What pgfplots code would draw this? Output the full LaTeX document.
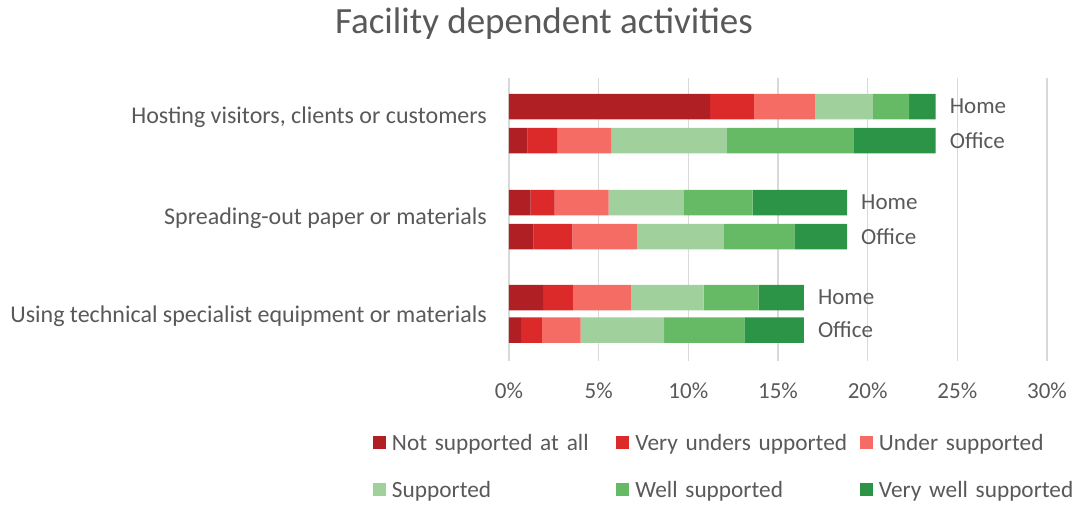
\documentclass[border=0pt]{standalone}
\usepackage{pgfplots}
\pgfplotsset{compat=1.18}
\usepackage{pgfplotstable}
\usepackage{fontspec}
\setmainfont{Carlito}
\definecolor{txt}{HTML}{595959}
\definecolor{gridc}{HTML}{D9D9D9}
\definecolor{c1}{HTML}{B01F24}
\definecolor{c2}{HTML}{DC2A2A}
\definecolor{c3}{HTML}{F46C64}
\definecolor{c4}{HTML}{A0D09B}
\definecolor{c5}{HTML}{66BA66}
\definecolor{c6}{HTML}{2B9446}
\pgfplotstableread{
y s1 s2 s3 s4 s5 s6
106.5 11.21 2.44 3.43 3.21 2.02 1.48
140.5 1.04 1.65 3.00 6.46 7.08 4.56
202.5 1.21 1.33 3.02 4.17 3.85 5.27
236.5 1.38 2.16 3.59 4.85 3.94 2.93
297.5 1.90 1.66 3.27 4.02 3.07 2.52
330.0 0.67 1.16 2.17 4.65 4.48 3.31
}\mytbl
\tikzset{lab/.style={anchor=west, inner sep=0pt, xshift=14pt, text=txt, font=\fontsize{23}{28}\selectfont}}
\begin{document}
\begin{tikzpicture}
\path[use as bounding box] (-509pt,-145pt) rectangle (572pt,361pt);
\node[anchor=base, inner sep=0pt, text=txt, font=\fontsize{37}{44}\selectfont] at (35pt,327.7pt) {Facility dependent activities};
\begin{axis}[
 scale only axis, width=538pt, height=283pt,
 xmin=0, xmax=30, ymin=78, ymax=361, y dir=reverse,
 xbar stacked, bar width=25.5pt,
 axis line style={draw=none},
 major tick length=0pt,
 xtick={0,5,10,15,20,25,30}, xticklabels={0\%,5\%,10\%,15\%,20\%,25\%,30\%},
 xmajorgrids, grid style={gridc, line width=1.5pt},
 ytick={123.3,224,322.3},
 yticklabels={{Hosting visitors, clients or customers}, {Spreading-out paper or materials}, {Using technical specialist equipment or materials}},
 yticklabel style={anchor=base east, inner sep=0pt, xshift=-22pt, text=txt, font=\fontsize{24}{28}\selectfont},
 xticklabel style={anchor=base, inner sep=0pt, yshift=-37.3pt, text=txt, font=\fontsize{23}{28}\selectfont},
 legend columns=3,
 legend cell align=left,
 legend style={at={(-0.2528,-0.2615)}, anchor=north west, draw=none, fill=none, inner sep=0pt, outer sep=0pt, row sep=31.5pt,
   nodes={inner sep=0pt, text height=15.5pt, text depth=0pt, text width=224.5pt, align=left, font=\fontsize{23.3}{28}\selectfont, text=txt},
   /tikz/every odd column/.append style={column sep=6pt}},
 legend image code/.code={\fill[#1] (0pt,-6.5pt) rectangle (13pt,6.5pt);},
]
\addplot[fill=c1, draw=none] table[x=s1, y=y] {\mytbl};
\addplot[fill=c2, draw=none] table[x=s2, y=y] {\mytbl};
\addplot[fill=c3, draw=none] table[x=s3, y=y] {\mytbl};
\addplot[fill=c4, draw=none] table[x=s4, y=y] {\mytbl};
\addplot[fill=c5, draw=none] table[x=s5, y=y] {\mytbl};
\addplot[fill=c6, draw=none] table[x=s6, y=y] {\mytbl};
\legend{Not supported at all, Very unders upported, Under supported, Supported, Well supported, Very well supported}
\node[lab] at (axis cs:23.79,106.5) {Home};
\node[lab] at (axis cs:23.79,140.5) {Office};
\node[lab] at (axis cs:18.85,202.5) {Home};
\node[lab] at (axis cs:18.85,236.5) {Office};
\node[lab] at (axis cs:16.44,297.5) {Home};
\node[lab] at (axis cs:16.44,330.0) {Office};
\end{axis}
\end{tikzpicture}
\end{document}
